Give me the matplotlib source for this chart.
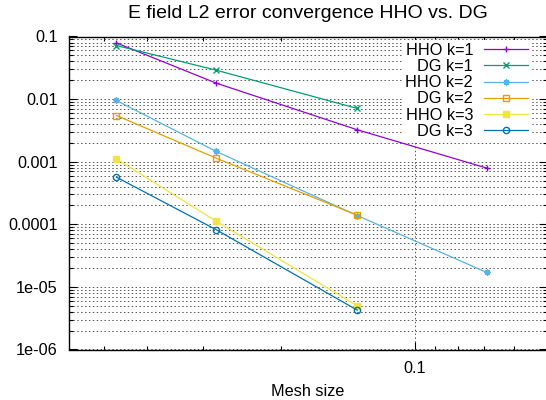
#!/usr/bin/env python3
"""
E field L2 error convergence, HHO vs. DG, on log-log axes (gnuplot look).
"""

import matplotlib
matplotlib.use("Agg")
import matplotlib.pyplot as plt
from matplotlib.ticker import FixedLocator, NullFormatter, LogLocator

plt.rcParams['font.family'] = ['Liberation Sans', 'DejaVu Sans']
plt.rcParams['font.size'] = 11.7

# mesh sizes
mesh = [0.0213, 0.0357, 0.0741, 0.145]

hho_k1 = [0.079, 0.0180, 0.00324, 0.00079]
dg_k1 = [0.0718, 0.029, 0.0071]
hho_k2 = [0.0095, 0.00146, 0.000138, 1.70e-5]
dg_k2 = [0.00547, 0.00114, 0.00014]
hho_k3 = [0.00111, 0.000112, 5.0e-6]
dg_k3 = [0.000566, 8.2e-5, 4.26e-6]

series = [
    ("HHO k=1", hho_k1, "#9400d3", "+", 'full'),
    ("DG k=1", dg_k1, "#009e73", "x", 'full'),
    ("HHO k=2", hho_k2, "#56b4e9", (8, 2, 0), 'full'),
    ("DG k=2", dg_k2, "#e69f00", "s", 'none'),
    ("HHO k=3", hho_k3, "#f0e442", "s", 'full'),
    ("DG k=3", dg_k3, "#0072b2", "o", 'none'),
]

y_ticks = [0.1, 0.01, 0.001, 0.0001, 1e-05, 1e-06]
y_labels = ["0.1", "0.01", "0.001", "0.0001", "1e-05", "1e-06"]
x_minor = [1/50, 1/40, 1/30, 1/20, 1/9, 1/8, 1/7, 1/6]

fig = plt.figure(figsize=(5.46, 4.0), dpi=100)
ax = fig.add_axes([69.3 / 546, 50.5 / 400, (547 - 69.3) / 546, (349.5 - 36.5) / 400])

for label, vals, color, marker, fill in series:
    ax.plot(mesh[:len(vals)], vals, color=color, lw=0.9, marker=marker,
            ms=4.5, mew=1.0, fillstyle=fill, label=label)

ax.set_xscale("log")
ax.set_yscale("log")
ax.set_xlim(0.01669, 0.198)
ax.set_ylim(1e-6, 0.1)

ax.xaxis.set_major_locator(FixedLocator([0.1]))
ax.set_xticklabels(["0.1"])
ax.xaxis.set_minor_locator(FixedLocator(x_minor))
ax.xaxis.set_minor_formatter(NullFormatter())
ax.yaxis.set_major_locator(FixedLocator(y_ticks))
ax.set_yticklabels(y_labels)
ax.yaxis.set_minor_locator(LogLocator(base=10, subs=range(2, 10)))
ax.yaxis.set_minor_formatter(NullFormatter())

ax.tick_params(which='both', direction='in', top=True, right=True, color='black')
ax.tick_params(which='major', length=6, width=0.8, pad=8.4)
ax.tick_params(which='minor', length=3, width=0.8)

grid_style = dict(color='#555555', lw=0.7, linestyle=(0, (1.5, 2.5)))
ax.yaxis.grid(True, which='both', **grid_style)
ax.xaxis.grid(True, which='major', **grid_style)
ax.set_axisbelow(True)

for sp in ax.spines.values():
    sp.set_linewidth(1.0)

ax.set_title("E field L2 error convergence HHO vs. DG", pad=13.5)
ax.set_xlabel("Mesh size", labelpad=5.8)

leg = ax.legend(loc='upper right', bbox_to_anchor=(0.967, 0.9895), markerfirst=False,
                frameon=True, fancybox=False, handlelength=2.7, handletextpad=0.68,
                labelspacing=0.07, borderaxespad=0.0, borderpad=0.2)
leg.get_frame().set_facecolor('white')
leg.get_frame().set_edgecolor('none')
leg.get_frame().set_alpha(1.0)
for t in leg.get_texts():
    t.set_ha('right')

fig.savefig("out.png", dpi=100)
